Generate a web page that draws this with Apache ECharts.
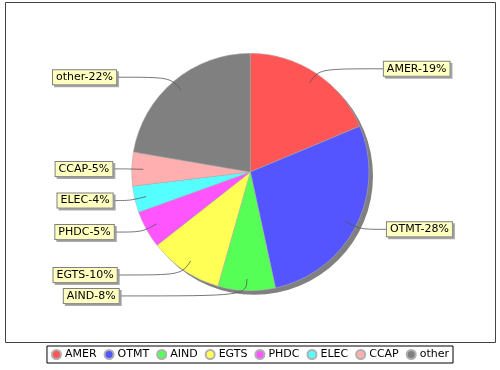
<!DOCTYPE html>
<html><head><meta charset="utf-8">
<script src="https://cdn.jsdelivr.net/npm/echarts@6/dist/echarts.min.js"></script>
<style>html,body{margin:0;padding:0;background:#fff}#c{width:500px;height:370px}</style>
</head><body><div id="c"></div>
<script>
// ---- data ----
const categories = ['AMER', 'OTMT', 'AIND', 'EGTS', 'PHDC', 'ELEC', 'CCAP', 'other'];
const values = [18.7, 27.9, 7.8, 10.0, 5.1, 3.6, 4.6, 22.3];
const colors = ['#FF5555', '#5555FF', '#55FF55', '#FFFF55', '#FF55FF', '#55FFFF', '#FFAFAF', '#808080'];

// ---- layout ----
const CX = 250.3, CY = 172, R = 118.7;
const LINK_R = 107, ELBOW_R = 124;
const FONT = 'DejaVu Sans';

const total = values.reduce((a, b) => a + b, 0);
const midAngles = [];
let acc = 0;
values.forEach(v => { midAngles.push((acc + v / 2) / total * Math.PI * 2); acc += v; });

function cubic(p0, p1, p2, p3, n) {
  const pts = [];
  for (let i = 0; i <= n; i++) {
    const t = i / n, u = 1 - t;
    pts.push([
      u*u*u*p0[0] + 3*u*u*t*p1[0] + 3*u*t*t*p2[0] + t*t*t*p3[0],
      u*u*u*p0[1] + 3*u*u*t*p1[1] + 3*u*t*t*p2[1] + t*t*t*p3[1]
    ]);
  }
  return pts;
}

const pieData = categories.map((c, i) => ({ name: c, value: values[i], itemStyle: { color: colors[i] } }));
const labelData = categories.map((c, i) => ({ name: c, value: values[i] }));

const chart = echarts.init(document.getElementById('c'), null, { renderer: 'canvas' });
chart.setOption({
  backgroundColor: '#fff',
  animation: false,
  color: colors,
  graphic: [{
    type: 'rect', silent: true, z: -10,
    shape: { x: 5.5, y: 2.5, width: 490, height: 340 },
    style: { fill: '#fff', stroke: '#444', lineWidth: 1 }
  }],
  legend: {
    data: categories,
    left: 'center', top: 346,
    orient: 'horizontal',
    icon: 'circle',
    itemWidth: 9, itemHeight: 9, itemGap: 7,
    padding: [3, 4],
    borderColor: '#000', borderWidth: 1,
    backgroundColor: '#fff',
    textStyle: { fontFamily: FONT, fontSize: 11, color: '#000', padding: [0, 0, 0, -1] },
    selectedMode: false
  },
  series: [
    {
      type: 'pie', silent: true, z: 1,
      center: [CX + 4, CY + 4], radius: R,
      label: { show: false }, labelLine: { show: false },
      data: [{ value: 1, itemStyle: { color: '#808080' } }],
      emphasis: { disabled: true }
    },
    {
      type: 'pie', silent: true, z: 2,
      center: [CX, CY], radius: R,
      startAngle: 90, clockwise: true,
      label: { show: false }, labelLine: { show: false },
      itemStyle: { borderColor: '#b0b0b0', borderWidth: 0.5 },
      emphasis: { disabled: true },
      data: pieData
    },
    {
      type: 'pie', silent: true, z: 3,
      center: [CX, CY], radius: LINK_R,
      startAngle: 90, clockwise: true,
      avoidLabelOverlap: false,
      itemStyle: { color: 'rgba(0,0,0,0)', borderWidth: 0 },
      emphasis: { disabled: true },
      label: {
        show: true, position: 'outside',
        formatter: p => p.name + '-' + Math.round(p.percent) + '%',
        fontFamily: FONT, fontSize: 11, color: '#000',
        backgroundColor: '#FFFFC0',
        borderColor: '#808080', borderWidth: 1,
        padding: [2, 3, 1, 3],
        shadowColor: 'rgba(150,150,150,0.8)', shadowOffsetX: 2, shadowOffsetY: 2, shadowBlur: 0
      },
      labelLine: { show: true, lineStyle: { color: '#555', width: 0.8 }, smooth: false },
      labelLayout: function (params) {
        const th = midAngles[params.dataIndex];
        const s = Math.sin(th), c = Math.cos(th);
        const link = [CX + LINK_R * s, CY - LINK_R * c];
        const elbow = [CX + ELBOW_R * s, CY - ELBOW_R * c];
        const right = s >= 0;
        const dy = elbow[1] - CY;
        const off = 138 - 4.5 * Math.pow(dy / 104, 2);
        const lx = right ? CX + off : CX - off;
        const anchor = [lx, elbow[1]];
        return {
          x: lx, y: elbow[1],
          align: right ? 'left' : 'right',
          verticalAlign: 'middle',
          labelLinePoints: cubic(link, elbow, elbow, anchor, 16)
        };
      },
      data: labelData
    }
  ]
});
</script>
</body></html>
